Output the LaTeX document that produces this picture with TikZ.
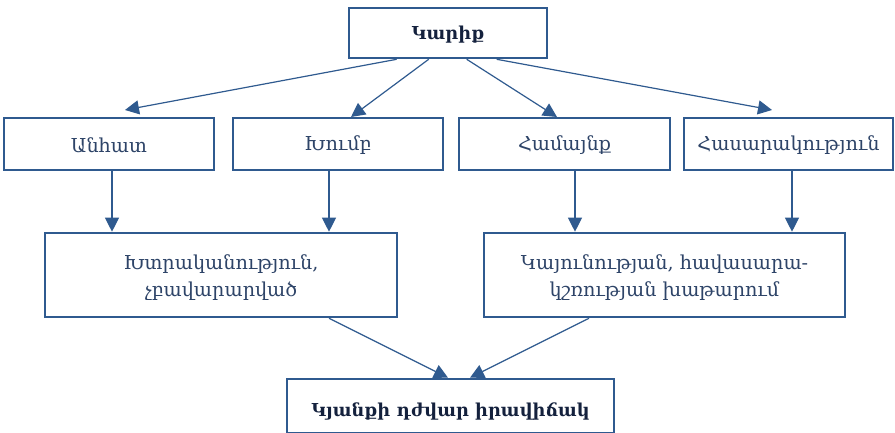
\documentclass[tikz,border=0pt]{standalone}
\usepackage{fontspec}
\setmainfont{DejaVu Serif}
\usetikzlibrary{arrows.meta,calc}
\definecolor{bord}{HTML}{2F5A8F}
\definecolor{lin}{HTML}{2F5A8F}
\definecolor{txt}{HTML}{2E4468}
\definecolor{btxt}{HTML}{14213D}
\newcommand{\lowr}[2]{\raisebox{#1}[\height][\depth]{#2}}
\newcommand{\twolines}[3]{\lowr{#1}{\setlength{\tabcolsep}{0pt}\begin{tabular}{c}#2\\#3\end{tabular}}}
\begin{document}
\begin{tikzpicture}[x=1pt,y=1pt,
  box/.style={draw=bord,line width=2.6pt,fill=white,inner sep=0pt,align=center,text=txt,font=\fontsize{19.2}{27}\selectfont},
  bbox/.style={box,text=btxt,font=\fontsize{17.8}{27}\selectfont\bfseries},
  arr/.style={draw=lin,line width=1.2pt,-{Triangle[length=14pt,width=14pt]}}]
\useasboundingbox (0,0) rectangle (895,433);
\node[bbox,minimum width=198pt,minimum height=50pt] (top) at (448,400) {\lowr{-1.5pt}{Կարիք}};
\node[box,minimum width=210pt,minimum height=52pt] (b1) at (109,289) {\lowr{-1.5pt}{Անհատ}};
\node[box,minimum width=210pt,minimum height=52pt] (b2) at (338,289) {\lowr{-1.5pt}{Խումբ}};
\node[box,minimum width=211pt,minimum height=52pt] (b3) at (564.5,289) {\lowr{-1.5pt}{Համայնք}};
\node[box,minimum width=209pt,minimum height=52pt] (b4) at (788.5,289) {\lowr{-1.5pt}{Հասարակություն}};
\node[box,minimum width=352pt,minimum height=84pt] (l) at (221,158) {\twolines{-3pt}{Խտրականություն,}{չբավարարված}};
\node[box,minimum width=361pt,minimum height=84pt] (r) at (664.5,158) {\twolines{-3pt}{Կայունության, հավասարա-}{կշռության խաթարում}};
\node[bbox,minimum width=327pt,minimum height=54pt] (bot) at (450.5,27) {\lowr{-5pt}{Կյանքի դժվար իրավիճակ}};
\coordinate (t1) at (125,323);
\coordinate (t2) at (351,316);
\coordinate (t3) at (557,316);
\coordinate (t4) at (772,323);
\draw[arr] ($(top.south west)+(49,0)$) -- (t1);
\draw[arr] ($(top.south west)+(81,0)$) -- (t2);
\draw[arr] ($(top.south west)+(119,0)$) -- (t3);
\draw[arr] ($(top.south west)+(149,0)$) -- (t4);
\draw[arr] (b1.south -| 112,0) -- (l.north -| 112,0);
\draw[arr] (b2.south -| 329,0) -- (l.north -| 329,0);
\draw[arr] (b3.south -| 575,0) -- (r.north -| 575,0);
\draw[arr] (b4.south -| 792,0) -- (r.north -| 792,0);
\draw[arr] (l.south -| 329,0) -- (bot.north -| 448,0);
\draw[arr] (r.south -| 589,0) -- (bot.north -| 470,0);
\end{tikzpicture}
\end{document}
